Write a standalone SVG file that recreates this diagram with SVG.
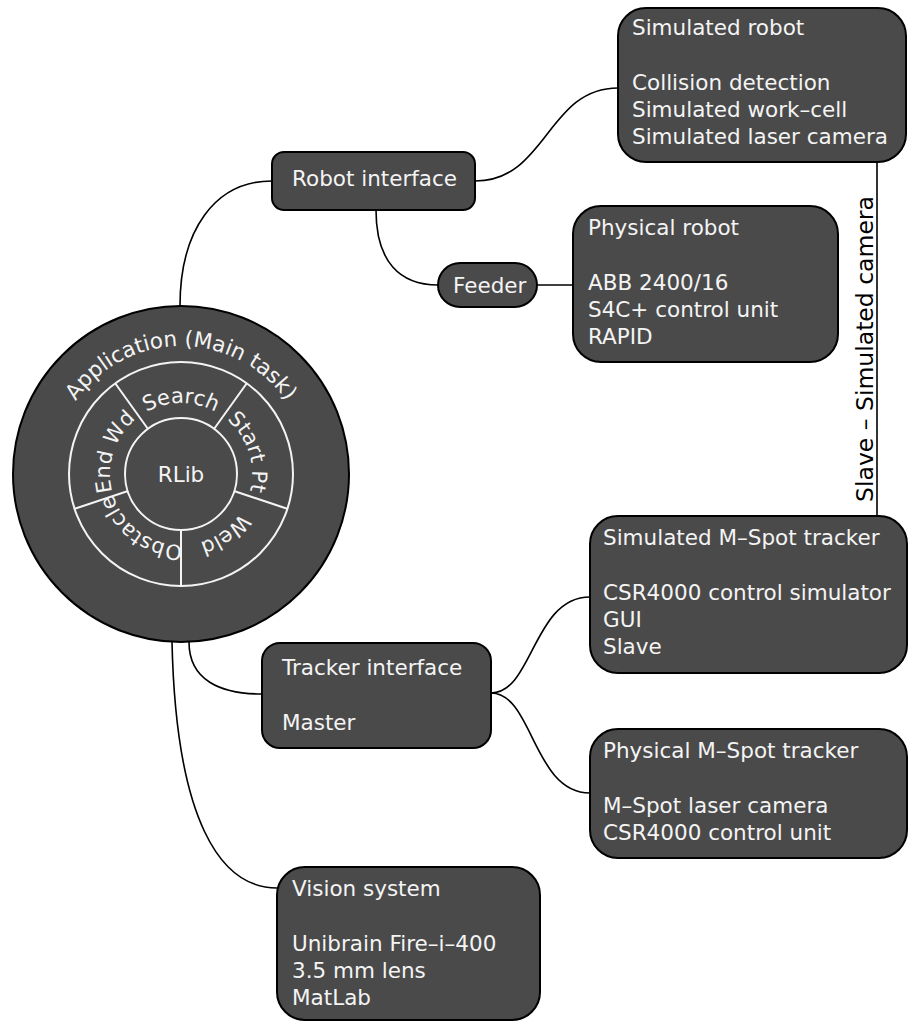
<svg xmlns="http://www.w3.org/2000/svg" xmlns:xlink="http://www.w3.org/1999/xlink" width="908" height="1021" viewBox="0 0 908 1021">
<style>
.node{fill:#4a4a4a;stroke:#000;stroke-width:2}
.t{font-family:"DejaVu Sans","Liberation Sans",sans-serif;font-size:21.5px;fill:#f4f4f4}
.c{fill:none;stroke:#000;stroke-width:1.6}
.ring{fill:none;stroke:#f4f4f4;stroke-width:2}
.seg{font-family:"DejaVu Sans","Liberation Sans",sans-serif;font-size:21px;fill:#f4f4f4}
.lbl{font-family:"DejaVu Sans","Liberation Sans",sans-serif;font-size:23.5px;fill:#000}
</style>
<defs>
<path id="arcOuter" d="M181,602 A128,128 0 0 1 181,346 A128,128 0 0 1 181,602"/>
<path id="arcInner" d="M181,545 A71,71 0 0 1 181,403 A71,71 0 0 1 181,545"/>
</defs>
<g id="connectors">
<path class="c" d="M180,306 C180,230 215,181 272,181"/>
<path class="c" d="M475,181 C547,181 547,88 618,88"/>
<path class="c" d="M376,210 C376,262 400,285 438,285"/>
<path class="c" d="M537,285 L573,285"/>
<path class="c" d="M189,642 C189,680 220,694 262,694"/>
<path class="c" d="M172,642 C176,820 220,888 277,888"/>
<path class="c" d="M491,693 C533,693 533,597 590,597"/>
<path class="c" d="M491,693 C533,693 533,793 590,793"/>
<path class="c" d="M877,162 L877,516"/>
<text class="lbl" transform="translate(873,349) rotate(-90)" text-anchor="middle">Slave – Simulated camera</text>
</g>
<g id="application">
<circle class="node" cx="181" cy="474" r="168"/>
<circle class="ring" cx="181" cy="474" r="112"/>
<circle class="ring" cx="181" cy="474" r="56"/>
<path class="ring" d="M148,429 L115,383 M214,429 L247,383 M234,491 L288,509 M181,530 L181,586 M128,491 L74,509"/>
<text class="t" font-size="22.5"><textPath xlink:href="#arcOuter" startOffset="50%" text-anchor="middle">Application (Main task)</textPath></text>
<text class="t" x="181" y="482" text-anchor="middle" font-size="22">RLib</text>
<text class="seg"><textPath xlink:href="#arcInner" startOffset="50%" text-anchor="middle">Search</textPath></text>
<text class="seg" transform="rotate(72 181 474)"><textPath xlink:href="#arcInner" startOffset="50%" text-anchor="middle">Start Pt</textPath></text>
<text class="seg" transform="rotate(144 181 474)"><textPath xlink:href="#arcInner" startOffset="50%" text-anchor="middle">Weld</textPath></text>
<text class="seg" transform="rotate(216 181 474)" font-size="19.5"><textPath xlink:href="#arcInner" startOffset="50%" text-anchor="middle">Obstacle</textPath></text>
<text class="seg" transform="rotate(288 181 474)"><textPath xlink:href="#arcInner" startOffset="50%" text-anchor="middle">End Wd</textPath></text>
</g>
<g id="robot-interface">
<rect class="node" x="272" y="152" width="203" height="58" rx="12"/>
<text class="t" x="292" y="186">Robot interface</text>
</g>
<g id="feeder">
<rect class="node" x="438" y="263" width="99" height="44" rx="22"/>
<text class="t" x="453" y="293">Feeder</text>
</g>
<g id="simulated-robot">
<rect class="node" x="618" y="8" width="288" height="154" rx="28"/>
<text class="t" x="632" y="35">Simulated robot</text>
<text class="t" x="632" y="90">Collision detection</text>
<text class="t" x="632" y="117">Simulated work–cell</text>
<text class="t" x="632" y="144">Simulated laser camera</text>
</g>
<g id="physical-robot">
<rect class="node" x="573" y="206" width="265" height="156" rx="28"/>
<text class="t" x="588" y="235">Physical robot</text>
<text class="t" x="588" y="290">ABB 2400/16</text>
<text class="t" x="588" y="317">S4C+ control unit</text>
<text class="t" x="588" y="344">RAPID</text>
</g>
<g id="simulated-mspot">
<rect class="node" x="590" y="516" width="317" height="157" rx="28"/>
<text class="t" x="603" y="545">Simulated M–Spot tracker</text>
<text class="t" x="603" y="600">CSR4000 control simulator</text>
<text class="t" x="603" y="627">GUI</text>
<text class="t" x="603" y="654">Slave</text>
</g>
<g id="physical-mspot">
<rect class="node" x="590" y="729" width="317" height="129" rx="28"/>
<text class="t" x="603" y="758">Physical M–Spot tracker</text>
<text class="t" x="603" y="813">M–Spot laser camera</text>
<text class="t" x="603" y="840">CSR4000 control unit</text>
</g>
<g id="tracker-interface">
<rect class="node" x="262" y="643" width="229" height="105" rx="18"/>
<text class="t" x="282" y="675">Tracker interface</text>
<text class="t" x="282" y="730">Master</text>
</g>
<g id="vision-system">
<rect class="node" x="277" y="867" width="263" height="153" rx="28"/>
<text class="t" x="292" y="896">Vision system</text>
<text class="t" x="292" y="951">Unibrain Fire–i–400</text>
<text class="t" x="292" y="978">3.5 mm lens</text>
<text class="t" x="292" y="1005">MatLab</text>
</g>
</svg>
